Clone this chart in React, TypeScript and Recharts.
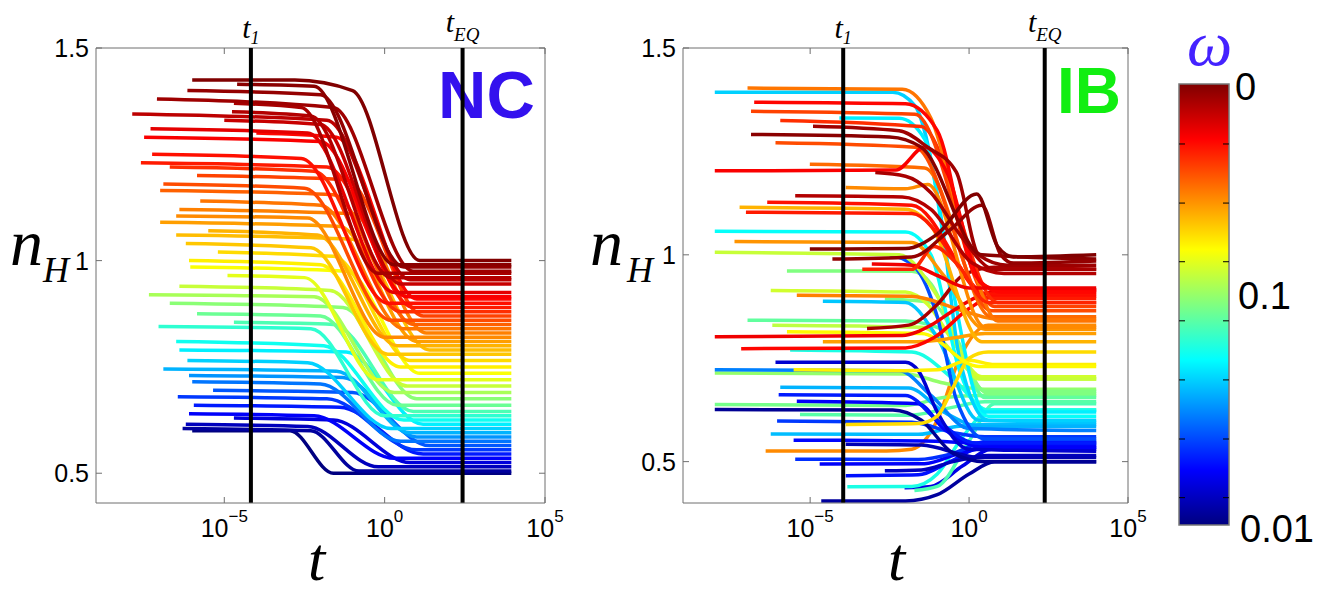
import React from 'react';
import { LineChart, Line, XAxis, YAxis, ReferenceLine } from 'recharts';

// x values are log10(t); ticks at 10^-5, 10^0, 10^5
const xTickExponents = [-5, 0, 5];
const nHTicks = [0.5, 1, 1.5];
const ncYDomain = [0.43, 1.5];
const ibYDomain = [0.4, 1.5];
const ncTimes = { t1: -4.17, tEQ: 2.43 };
const ibTimes = { t1: -3.96, tEQ: 2.38 };
const colorbarLabels = ['0', '0.1', '0.01'];

// colour position of every trajectory on the omega bar (1 = top "0", 0 = bottom "0.01")
const ncLevel = [
  0.0, 0.03, 0.06, 0.09, 0.12, 0.15, 0.18, 0.21, 0.24, 0.27, 0.3, 0.33, 0.36, 0.39, 0.42, 0.45,
  0.48, 0.51, 0.54, 0.57, 0.6, 0.62, 0.64, 0.66, 0.68, 0.69, 0.7, 0.72, 0.74, 0.75, 0.76, 0.78,
  0.8, 0.81, 0.83, 0.85, 0.86, 0.87, 0.88, 0.9, 0.93, 0.94, 0.95, 0.96, 0.97, 0.98, 0.99, 1.0,
];

// NC trajectories: [log10 t, n_H]
const ncCurves: number[][][] = [
  [[-6.0, 0.6], [-2.95, 0.6], [-1.6, 0.5], [3.95, 0.5]],
  [[-6.3, 0.605], [-2.3, 0.6], [-0.8, 0.505], [3.95, 0.505]],
  [[-6.2, 0.615], [-2.4, 0.61], [-0.2, 0.515], [3.95, 0.515]],
  [[-4.7, 0.63], [-1.6, 0.625], [0.8, 0.525], [3.95, 0.525]],
  [[-6.1, 0.64], [-2.2, 0.635], [0.3, 0.535], [3.95, 0.535]],
  [[-5.95, 0.66], [-1.4, 0.655], [1.2, 0.545], [3.95, 0.545]],
  [[-6.45, 0.68], [-1.8, 0.675], [1.0, 0.555], [3.95, 0.555]],
  [[-5.35, 0.695], [-1.0, 0.69], [1.4, 0.565], [3.95, 0.565]],
  [[-6.0, 0.715], [-2.0, 0.71], [0.5, 0.575], [3.95, 0.575]],
  [[-6.1, 0.73], [-1.3, 0.725], [1.0, 0.585], [3.95, 0.585]],
  [[-6.9, 0.745], [-1.5, 0.74], [0.8, 0.595], [3.95, 0.595]],
  [[-6.15, 0.765], [-2.4, 0.76], [0.2, 0.605], [3.95, 0.605]],
  [[-6.4, 0.79], [-1.2, 0.785], [1.2, 0.615], [3.95, 0.615]],
  [[-6.5, 0.81], [-1.9, 0.8], [0.6, 0.625], [3.95, 0.625]],
  [[-7.05, 0.845], [-2.3, 0.84], [0.0, 0.635], [3.95, 0.635]],
  [[-4.7, 0.855], [-1.6, 0.85], [0.9, 0.645], [3.95, 0.645]],
  [[-5.85, 0.875], [-2.0, 0.87], [0.4, 0.66], [3.95, 0.66]],
  [[-6.7, 0.9], [-1.3, 0.89], [1.0, 0.675], [3.95, 0.675]],
  [[-7.35, 0.92], [-2.2, 0.915], [0.3, 0.69], [3.95, 0.69]],
  [[-6.4, 0.94], [-1.7, 0.93], [0.7, 0.705], [3.95, 0.705]],
  [[-4.9, 0.965], [-2.5, 0.96], [-0.2, 0.72], [3.95, 0.72]],
  [[-6.06, 0.985], [-1.2, 0.975], [1.1, 0.735], [3.95, 0.735]],
  [[-6.1, 1.0], [-2.0, 0.99], [0.5, 0.75], [3.95, 0.75]],
  [[-5.2, 1.02], [-1.6, 1.01], [0.8, 0.765], [3.95, 0.765]],
  [[-6.2, 1.04], [-2.3, 1.03], [0.1, 0.78], [3.95, 0.78]],
  [[-6.5, 1.06], [-1.0, 1.05], [1.4, 0.79], [3.95, 0.79]],
  [[-5.5, 1.07], [-2.1, 1.06], [0.4, 0.8], [3.95, 0.8]],
  [[-7.0, 1.09], [-1.4, 1.08], [1.0, 0.81], [3.95, 0.81]],
  [[-6.5, 1.105], [-2.4, 1.1], [0.0, 0.82], [3.95, 0.82]],
  [[-6.4, 1.12], [-1.0, 1.11], [1.3, 0.83], [3.95, 0.83]],
  [[-5.75, 1.14], [-2.0, 1.13], [0.6, 0.84], [3.95, 0.84]],
  [[-7.0, 1.165], [-1.6, 1.155], [0.9, 0.85], [3.95, 0.85]],
  [[-6.9, 1.18], [-2.5, 1.17], [0.2, 0.86], [3.95, 0.86]],
  [[-5.85, 1.2], [-1.2, 1.19], [1.2, 0.87], [3.95, 0.87]],
  [[-6.7, 1.22], [-2.2, 1.21], [0.5, 0.88], [3.95, 0.88]],
  [[-7.6, 1.23], [-1.8, 1.22], [0.9, 0.89], [3.95, 0.89]],
  [[-7.25, 1.25], [-2.6, 1.24], [0.1, 0.9], [3.95, 0.9]],
  [[-4.0, 1.3], [-1.5, 1.29], [1.0, 0.91], [3.95, 0.91]],
  [[-7.5, 1.29], [-2.0, 1.28], [0.7, 0.915], [3.95, 0.915]],
  [[-7.3, 1.31], [-2.4, 1.3], [0.3, 0.925], [3.95, 0.925]],
  [[-5.0, 1.33], [-2.0, 1.32], [0.5, 0.945], [3.95, 0.945]],
  [[-7.87, 1.345], [-1.8, 1.33], [0.8, 0.955], [3.95, 0.955]],
  [[-4.76, 1.35], [-2.3, 1.34], [0.2, 0.96], [3.95, 0.96]],
  [[-4.7, 1.37], [-2.6, 1.36], [-0.2, 0.97], [3.95, 0.97]],
  [[-7.1, 1.38], [-1.6, 1.36], [0.9, 0.975], [3.95, 0.975]],
  [[-6.15, 1.4], [-2.0, 1.39], [0.6, 0.985], [3.95, 0.985]],
  [[-4.6, 1.415], [-2.2, 1.41], [0.3, 0.99], [3.95, 0.99]],
  [[-6.0, 1.425], [-2.8, 1.425], [-1.0, 1.4], [1.1, 1.0], [3.95, 1.0]],
];

const ibLevel = [
  0.03, 0.1, 0.45, 0.4, 0.14, 0.06, 0.12, 0.17, 0.74, 0.05, 0.13, 0.31, 0.18, 0.46, 0.02, 0.49,
  0.12, 0.15, 0.3, 0.52, 0.25, 0.08, 0.4, 0.56, 0.47, 0.5, 0.32, 0.58, 0.5, 0.2, 0.57, 0.38,
  0.33, 0.36, 0.64, 0.66, 0.63, 0.72, 0.75, 0.87, 0.89, 0.96, 0.73, 0.7, 0.85, 0.86, 0.74, 0.77,
  0.8, 0.83, 0.81, 0.76, 0.88, 0.87, 0.95, 0.96, 0.97, 0.99, 0.89, 0.84, 0.98, 1.0,
];

// IB trajectories: [log10 t, n_H]
const ibCurves: number[][][] = [
  [[-4.65, 0.405], [-2.0, 0.405], [-1.0, 0.42], [0.0, 0.47], [0.8, 0.5], [4.0, 0.5]],
  [[-2.03, 0.437], [-1.2, 0.44], [-0.2, 0.49], [0.7, 0.53], [4.0, 0.53]],
  [[-1.72, 0.43], [-1.0, 0.44], [0.0, 0.55], [0.8, 0.64], [4.0, 0.64]],
  [[-3.83, 0.439], [-1.8, 0.44], [-1.0, 0.47], [-0.2, 0.56], [0.7, 0.625], [4.0, 0.625]],
  [[-3.88, 0.466], [-1.6, 0.468], [-0.6, 0.5], [0.6, 0.54], [4.0, 0.54]],
  [[-2.65, 0.478], [-1.5, 0.48], [-0.5, 0.5], [0.6, 0.515], [4.0, 0.515]],
  [[-4.7, 0.494], [-1.4, 0.495], [-0.3, 0.52], [0.7, 0.535], [4.0, 0.535]],
  [[-5.47, 0.506], [-1.6, 0.505], [-0.5, 0.52], [0.6, 0.55], [4.0, 0.55]],
  [[-6.4, 0.526], [-2.6, 0.526], [-1.8, 0.53], [-1.0, 0.6], [-0.3, 0.75], [0.6, 0.83], [4.0, 0.83]],
  [[-3.88, 0.542], [-1.5, 0.54], [0.3, 0.51], [4.0, 0.51]],
  [[-5.52, 0.552], [-1.4, 0.55], [0.4, 0.545], [4.0, 0.545]],
  [[-6.24, 0.567], [-1.6, 0.566], [-0.4, 0.585], [0.6, 0.59], [4.0, 0.59]],
  [[-6.04, 0.598], [-1.8, 0.595], [-0.5, 0.57], [0.5, 0.56], [4.0, 0.56]],
  [[-5.32, 0.614], [-1.9, 0.612], [-0.6, 0.63], [0.5, 0.645], [4.0, 0.645]],
  [[-8.0, 0.626], [-2.4, 0.625], [-1.5, 0.6], [-0.5, 0.52], [0.5, 0.5], [4.0, 0.5]],
  [[-8.0, 0.638], [-2.0, 0.636], [-0.8, 0.655], [0.4, 0.66], [4.0, 0.66]],
  [[-5.42, 0.646], [-1.6, 0.64], [-0.8, 0.58], [0.4, 0.535], [4.0, 0.535]],
  [[-5.99, 0.662], [-2.0, 0.66], [-1.0, 0.6], [0.2, 0.545], [4.0, 0.545]],
  [[-5.94, 0.68], [-1.9, 0.678], [-0.8, 0.62], [0.4, 0.585], [4.0, 0.585]],
  [[-8.0, 0.714], [-2.0, 0.712], [-0.8, 0.69], [0.5, 0.675], [4.0, 0.675]],
  [[-8.0, 0.722], [-2.2, 0.72], [-1.2, 0.66], [0.0, 0.58], [4.0, 0.575]],
  [[-6.09, 0.74], [-2.0, 0.74], [-1.6, 0.72], [-1.0, 0.62], [0.0, 0.53], [4.0, 0.525]],
  [[-5.63, 0.77], [-1.8, 0.765], [-0.5, 0.7], [0.6, 0.625], [4.0, 0.625]],
  [[-6.19, 0.83], [-1.5, 0.825], [0.5, 0.7], [4.0, 0.7]],
  [[-6.97, 0.842], [-2.0, 0.84], [-0.6, 0.81], [0.5, 0.655], [4.0, 0.655]],
  [[-2.65, 0.893], [-1.2, 0.885], [0.6, 0.665], [4.0, 0.665]],
  [[-4.6, 0.888], [-2.0, 0.885], [-1.0, 0.8], [0.3, 0.6], [4.0, 0.595]],
  [[-6.24, 0.914], [-2.0, 0.91], [-1.3, 0.88], [-0.5, 0.79], [0.4, 0.705], [4.0, 0.705]],
  [[-5.73, 0.961], [-1.8, 0.96], [-1.2, 0.93], [-0.4, 0.8], [0.5, 0.67], [4.0, 0.67]],
  [[-2.49, 1.0], [-1.7, 0.97], [-1.0, 0.85], [-0.4, 0.65], [0.5, 0.555], [4.0, 0.555]],
  [[-8.0, 1.006], [-2.2, 1.0], [-1.0, 0.9], [0.3, 0.7], [4.0, 0.7]],
  [[-8.0, 1.057], [-2.0, 1.055], [-1.2, 1.0], [-0.3, 0.72], [0.6, 0.61], [4.0, 0.61]],
  [[-8.0, 1.393], [-2.4, 1.393], [-1.7, 1.36], [-0.9, 1.1], [-0.3, 0.75], [0.6, 0.6], [4.0, 0.6]],
  [[-4.08, 1.331], [-2.2, 1.33], [-1.4, 1.28], [-0.6, 0.95], [0.5, 0.62], [4.0, 0.62]],
  [[-5.52, 0.722], [-2.0, 0.72], [-1.0, 0.722], [0.0, 0.745], [0.8, 0.735], [4.0, 0.735]],
  [[-3.88, 0.59], [-1.6, 0.592], [-1.0, 0.61], [-0.5, 0.68], [0.0, 0.75], [0.6, 0.765], [4.0, 0.765]],
  [[-5.73, 0.814], [-1.5, 0.81], [0.3, 0.73], [4.0, 0.73]],
  [[-4.6, 0.79], [-1.6, 0.79], [-0.4, 0.8], [0.5, 0.81], [4.0, 0.81]],
  [[-5.42, 0.902], [-1.9, 0.9], [0.0, 0.86], [0.8, 0.845], [4.0, 0.845]],
  [[-7.17, 0.773], [-2.0, 0.775], [-1.1, 0.8], [0.0, 0.87], [0.8, 0.9], [4.0, 0.9]],
  [[-8.0, 0.802], [-2.1, 0.805], [-1.2, 0.83], [-0.6, 0.86], [0.3, 0.9], [1.0, 0.915], [4.0, 0.915]],
  [[-3.21, 0.822], [-1.9, 0.83], [-1.0, 0.88], [-0.2, 0.95], [0.8, 0.97], [4.0, 0.965]],
  [[-7.38, 1.032], [-1.8, 1.03], [-0.8, 0.95], [0.5, 0.82], [4.0, 0.82]],
  [[-7.22, 1.115], [-2.0, 1.11], [-1.2, 1.07], [0.4, 0.79], [4.0, 0.79]],
  [[-7.02, 1.103], [-1.8, 1.1], [0.7, 0.895], [4.0, 0.895]],
  [[-6.35, 1.127], [-1.8, 1.12], [0.6, 0.905], [4.0, 0.905]],
  [[-3.88, 1.163], [-2.0, 1.16], [-1.3, 1.17], [0.5, 0.825], [4.0, 0.825]],
  [[-5.01, 1.219], [-1.4, 1.21], [0.7, 0.85], [4.0, 0.85]],
  [[-6.09, 1.271], [-1.7, 1.26], [0.7, 0.865], [4.0, 0.865]],
  [[-5.94, 1.325], [-1.5, 1.31], [0.9, 0.885], [4.0, 0.885]],
  [[-6.86, 1.347], [-1.7, 1.34], [0.8, 0.875], [4.0, 0.875]],
  [[-6.97, 1.403], [-2.1, 1.4], [-1.2, 1.33], [0.0, 1.0], [0.9, 0.84], [4.0, 0.84]],
  [[-8.0, 1.203], [-2.3, 1.205], [-1.4, 1.26], [-0.7, 1.2], [0.4, 0.93], [1.0, 0.915], [4.0, 0.915]],
  [[-6.76, 1.369], [-2.0, 1.365], [-1.0, 1.3], [0.2, 0.95], [1.0, 0.91], [4.0, 0.91]],
  [[-5.47, 1.143], [-2.1, 1.14], [-1.2, 1.11], [0.1, 0.98], [1.1, 0.955], [4.0, 0.955]],
  [[-2.95, 1.199], [-2.0, 1.19], [-1.2, 1.15], [-0.3, 1.05], [0.8, 0.965], [4.0, 0.965]],
  [[-4.91, 1.311], [-2.2, 1.3], [-1.3, 1.26], [-0.4, 1.2], [0.3, 1.0], [1.2, 0.975], [4.0, 0.975]],
  [[-6.86, 1.291], [-2.5, 1.285], [-1.5, 1.26], [0.4, 1.0], [4.0, 0.99]],
  [[-3.06, 0.978], [-1.8, 0.975], [-1.0, 0.95], [0.0, 0.92], [4.0, 0.92]],
  [[-3.36, 0.965], [-1.8, 0.965], [-1.1, 1.02], [-0.4, 0.98], [0.6, 0.885], [4.0, 0.885]],
  [[-4.3, 0.99], [-1.8, 0.995], [-0.6, 1.06], [0.4, 1.12], [1.0, 1.0], [1.4, 0.98], [4.0, 0.985]],
  [[-5.01, 1.014], [-2.0, 1.015], [-1.0, 1.05], [0.24, 1.147], [0.9, 1.02], [1.4, 0.995], [4.0, 1.0]],
];

const FONT_SANS = "'Liberation Sans', Arial, sans-serif";
const FONT_SERIF = "'Liberation Serif', 'Times New Roman', serif";

function jet(v: number): string {
  const c = (x: number) => Math.round(255 * Math.max(0, Math.min(1, x)));
  return `rgb(${c(1.5 - Math.abs(4 * v - 3))},${c(1.5 - Math.abs(4 * v - 2))},${c(1.5 - Math.abs(4 * v - 1))})`;
}

const AXIS_GREY = '#6f6f6f';
const PLOT_TOP = 48;

const makeXTick = (plotTop: number) => (props: any) => {
  const { x, y, payload } = props;
  const e = payload.value as number;
  const sup = e < 0 ? `\u2212${-e}` : `${e}`;
  return (
    <g>
      <line x1={x} x2={x} y1={y} y2={y - 6} stroke={AXIS_GREY} />
      <line x1={x} x2={x} y1={plotTop} y2={plotTop + 6} stroke={AXIS_GREY} />
      <text x={x} y={y + 34} textAnchor="middle" fontFamily={FONT_SANS} fontSize={25} fill="#000">
        10<tspan dy={-15} fontSize={17}>{sup}</tspan>
      </text>
    </g>
  );
};

const makeYTick = (plotRight: number) => (props: any) => {
  const { x, y, payload } = props;
  return (
    <g>
      <line x1={x} x2={x + 6} y1={y} y2={y} stroke={AXIS_GREY} />
      <line x1={plotRight - 6} x2={plotRight} y1={y} y2={y} stroke={AXIS_GREY} />
      <text x={x - 7} y={y} dy="0.36em" textAnchor="end" fontFamily={FONT_SANS} fontSize={25} fill="#000">
        {payload.value}
      </text>
    </g>
  );
};

const timeLabel = (sub: string, baseY: number, subDy: number, subSize: number) => (props: any) => {
  const vb = props.viewBox || {};
  const x = (vb.x || 0) + (vb.width || 0) / 2;
  return (
    <text x={x} y={baseY} textAnchor="middle" fontFamily={FONT_SERIF} fontStyle="italic" fill="#000">
      <tspan fontSize={30}>t</tspan>
      <tspan fontSize={subSize} dy={subDy}>{sub}</tspan>
    </text>
  );
};

type PanelProps = {
  levels: number[];
  curves: number[][][];
  yDomain: number[];
  times: { t1: number; tEQ: number };
  left: number;
  width: number;
  marginLeft: number;
  marginRight: number;
  strokeWidth: number;
};

function Panel({ levels, curves, yDomain, times, left, width, marginLeft, marginRight, strokeWidth }: PanelProps) {
  const plotRight = width - marginRight;
  return (
    <div style={{ position: 'absolute', left, top: 0 }}>
      <LineChart width={width} height={595} margin={{ top: PLOT_TOP, right: marginRight, bottom: 0, left: marginLeft }}>
        <XAxis
          dataKey="lt"
          type="number"
          domain={[-9, 5]}
          ticks={xTickExponents}
          interval={0}
          allowDataOverflow
          tickSize={0}
          tickMargin={0}
          height={92}
          stroke={AXIS_GREY}
          tick={makeXTick(PLOT_TOP)}
        />
        <YAxis
          type="number"
          domain={yDomain}
          ticks={nHTicks}
          interval={0}
          allowDataOverflow
          tickSize={0}
          tickMargin={0}
          width={50}
          stroke={AXIS_GREY}
          tick={makeYTick(plotRight)}
        />
        <ReferenceLine y={yDomain[1]} stroke={AXIS_GREY} />
        <ReferenceLine x={5} stroke={AXIS_GREY} />
        {curves.map((c, i) => (
          <Line
            key={i}
            data={c.map(([lt, n]) => ({ lt, n }))}
            dataKey="n"
            type="monotone"
            stroke={jet(levels[i])}
            strokeWidth={strokeWidth}
            dot={false}
            activeDot={false}
            isAnimationActive={false}
          />
        ))}
        <ReferenceLine x={times.t1} stroke="#000" strokeWidth={4} label={timeLabel('1', 38, 6, 18)} />
        <ReferenceLine x={times.tEQ} stroke="#000" strokeWidth={4} label={timeLabel('EQ', 32, 9, 19)} />
      </LineChart>
    </div>
  );
}

const CB = { x: 1179, y: 84, w: 50, h: 441 };
const cbTickFractions = [0.136, 0.27, 0.403, 0.537, 0.671, 0.805, 0.938];
const cbLabelY = [100, 309, 542];
const cbLabelX = [1235, 1238, 1240];

export default function App() {
  const stops = Array.from({ length: 9 }, (_, k) => k / 8);
  return (
    <div style={{ position: 'absolute', left: 0, top: 0, width: 1326, height: 595, background: '#fff', overflow: 'hidden' }}>
      <svg width={1326} height={595} style={{ position: 'absolute', left: 0, top: 0 }}>
        <defs>
          <linearGradient id="jetbar" x1="0" y1="0" x2="0" y2="1">
            {stops.map((s) => (
              <stop key={s} offset={s} stopColor={jet(1 - s)} />
            ))}
          </linearGradient>
        </defs>
        {/* axis labels */}
        <text x={10} y={265} fontFamily={FONT_SERIF} fontStyle="italic" fontSize={66} fill="#000">n</text>
        <text x={43} y={282} fontFamily={FONT_SERIF} fontStyle="italic" fontSize={36} fill="#000">H</text>
        <text x={590} y={265} fontFamily={FONT_SERIF} fontStyle="italic" fontSize={66} fill="#000">n</text>
        <text x={627} y={282} fontFamily={FONT_SERIF} fontStyle="italic" fontSize={36} fill="#000">H</text>
        <text x={308} y={580} fontFamily={FONT_SERIF} fontStyle="italic" fontSize={62} fill="#000">t</text>
        <text x={888} y={580} fontFamily={FONT_SERIF} fontStyle="italic" fontSize={62} fill="#000">t</text>
        {/* panel tags */}
        <text x={438} y={118} fontFamily={FONT_SANS} fontWeight="bold" fontSize={67} fill="#3311ee">NC</text>
        <text x={1057} y={113} fontFamily={FONT_SANS} fontWeight="bold" fontSize={64} fill="#11ee11">IB</text>
        {/* colorbar */}
        <text x={1187} y={65} fontFamily={FONT_SERIF} fontStyle="italic" fontSize={64} fill="#4422ff">ω</text>
        <rect x={CB.x} y={CB.y} width={CB.w} height={CB.h} fill="url(#jetbar)" stroke="#777" strokeWidth={1.5} />
        {cbTickFractions.map((f) => (
          <g key={f}>
            <line x1={CB.x} x2={CB.x + 6} y1={CB.y + f * CB.h} y2={CB.y + f * CB.h} stroke="#000" />
            <line x1={CB.x + CB.w - 6} x2={CB.x + CB.w} y1={CB.y + f * CB.h} y2={CB.y + f * CB.h} stroke="#000" />
          </g>
        ))}
        {colorbarLabels.map((l, i) => (
          <text key={l} x={cbLabelX[i]} y={cbLabelY[i]} fontFamily={FONT_SANS} fontSize={38} fill="#000">{l}</text>
        ))}
      </svg>
      <Panel levels={ncLevel} curves={ncCurves} yDomain={ncYDomain} times={ncTimes} left={0} width={580} marginLeft={46} marginRight={35} strokeWidth={3.5} />
      <Panel levels={ibLevel} curves={ibCurves} yDomain={ibYDomain} times={ibTimes} left={570} width={593} marginLeft={63} marginRight={35} strokeWidth={3.5} />
    </div>
  );
}
